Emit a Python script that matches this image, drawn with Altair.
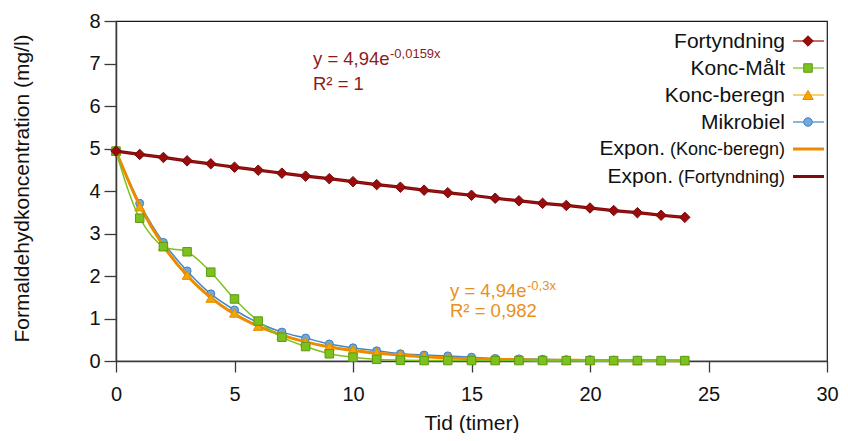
import altair as alt
import pandas as pd

hours = list(range(25))
fortyndning = [4.94, 4.86, 4.79, 4.71, 4.64, 4.56, 4.49, 4.42, 4.35, 4.29, 4.22, 4.15, 4.09,
               4.02, 3.96, 3.90, 3.83, 3.77, 3.71, 3.66, 3.60, 3.54, 3.49, 3.43, 3.38]
konc_maalt = [4.94, 3.36, 2.69, 2.57, 2.09, 1.46, 0.94, 0.56, 0.34, 0.17, 0.09, 0.04, 0.02,
              0.01, 0.01, 0.01, 0.01, 0.01, 0.01, 0.01, 0.01, 0.01, 0.01, 0.01, 0.01]
konc_beregn = [4.94, 3.63, 2.70, 2.02, 1.48, 1.13, 0.82, 0.60, 0.45, 0.34, 0.26, 0.20, 0.15,
               0.11, 0.08, 0.06, 0.05, 0.04, 0.03, 0.02, 0.02, 0.01, 0.01, 0.01, 0.01]
mikrobiel = [4.94, 3.71, 2.79, 2.12, 1.58, 1.20, 0.90, 0.68, 0.54, 0.40, 0.31, 0.24, 0.17,
             0.14, 0.12, 0.09, 0.06, 0.05, 0.04, 0.03, 0.03, 0.02, 0.02, 0.01, 0.01]
expon_konc = [4.94, 3.66, 2.71, 2.01, 1.49, 1.10, 0.82, 0.61, 0.45, 0.33, 0.25, 0.18, 0.14,
              0.10, 0.07, 0.05, 0.04, 0.03, 0.02, 0.02, 0.01, 0.01, 0.01, 0.01, 0.00]
expon_fort = [4.94, 4.86, 4.79, 4.71, 4.64, 4.56, 4.49, 4.42, 4.35, 4.29, 4.22, 4.15, 4.09,
              4.02, 3.96, 3.90, 3.83, 3.77, 3.71, 3.66, 3.60, 3.54, 3.49, 3.43, 3.38]

x_ticks = [0, 5, 10, 15, 20, 25, 30]
y_ticks = [0, 1, 2, 3, 4, 5, 6, 7, 8]

legend_names = ["Fortyndning", "Konc-Målt", "Konc-beregn", "Mikrobiel",
                "Expon. (Konc-beregn)", "Expon. (Fortyndning)"]

FONT = "Liberation Sans"

x_enc = alt.X("Tid:Q", scale=alt.Scale(domain=[0, 30], nice=False, zero=False),
              axis=alt.Axis(values=x_ticks, title="Tid (timer)", grid=False,
                            tickSize=11, labelPadding=12, labelFontSize=20, labelFlush=False,
                            labelOverlap=False,
                            titleFontSize=21, titleFontWeight="normal",
                            titleY=68, titleBaseline="alphabetic",
                            labelFont=FONT, titleFont=FONT, labelColor="#111",
                            titleColor="#111", domainColor="#3a3a3a", tickColor="#3a3a3a",
                            domainWidth=1.5, tickWidth=1.3))
y_enc_axis = alt.Axis(values=y_ticks, title="Formaldehydkoncentration (mg/l)", grid=False,
                      tickSize=12, labelPadding=4, labelFontSize=20, titleFontSize=21,
                      labelFlush=False, labelOverlap=False,
                      titleFontWeight="normal", titleX=-88, titleY=167,
                      titleBaseline="alphabetic", labelFont=FONT, titleFont=FONT,
                      labelColor="#111", titleColor="#111", domainColor="#3a3a3a",
                      tickColor="#3a3a3a", domainWidth=1.5, tickWidth=1.3)
y_scale = alt.Scale(domain=[0, 8], nice=False)


def frame(values):
    return pd.DataFrame({"Tid": hours, "v": values})


def y_enc():
    return alt.Y("v:Q", scale=y_scale, axis=y_enc_axis)


def series_line(values, color, width, interp):
    return alt.Chart(frame(values)).mark_line(
        color=color, strokeWidth=width, interpolate=interp).encode(x=x_enc, y=y_enc())


def series_points(values, shape, fill, stroke, size):
    return alt.Chart(frame(values)).mark_point(
        shape=shape, filled=True, fill=fill, stroke=stroke, strokeWidth=1,
        size=size, opacity=1).encode(x=x_enc, y=y_enc())


styles = {
    "Fortyndning": dict(line="#A31212", shape="diamond", fill="#9A0C0C", stroke="#7A0A0A", size=110),
    "Konc-Målt": dict(line="#7DC11F", shape="square", fill="#7DC11F", stroke="#5C9A14", size=72),
    "Konc-beregn": dict(line="#F7B01A", shape="triangle-up", fill="#F5A400", stroke="#E08E00", size=95),
    "Mikrobiel": dict(line="#3F86C6", shape="circle", fill="#72A9D9", stroke="#3F7FBF", size=64),
}

layers = [
    series_line(mikrobiel, styles["Mikrobiel"]["line"], 1.5, "catmull-rom"),
    series_points(mikrobiel, "circle", styles["Mikrobiel"]["fill"], styles["Mikrobiel"]["stroke"], 64),
    series_line(konc_beregn, styles["Konc-beregn"]["line"], 1.5, "catmull-rom"),
    series_line(expon_konc, "#EE8A00", 3, "monotone"),
    series_points(konc_beregn, "triangle-up", styles["Konc-beregn"]["fill"], styles["Konc-beregn"]["stroke"], 95),
    series_line(konc_maalt, styles["Konc-Målt"]["line"], 1.5, "catmull-rom"),
    series_points(konc_maalt, "square", styles["Konc-Målt"]["fill"], styles["Konc-Målt"]["stroke"], 72),
    series_line(expon_fort, "#7E0A0A", 3.2, "monotone"),
    series_line(fortyndning, styles["Fortyndning"]["line"], 1.2, "catmull-rom"),
    series_points(fortyndning, "diamond", styles["Fortyndning"]["fill"], styles["Fortyndning"]["stroke"], 110),
]


def text_at(txt, x, y, size, color, align="left", baseline="alphabetic"):
    return alt.Chart(pd.DataFrame({"t": [txt]})).mark_text(
        align=align, baseline=baseline, fontSize=size, font=FONT, color=color
    ).encode(text="t:N", x=alt.value(x), y=alt.value(y))


# equation annotations
red_txt = "#8E1B1B"
org_txt = "#E8901C"
layers += [
    text_at("y = 4,94e", 197, 44, 18.5, red_txt),
    text_at("-0,0159x", 274, 37, 13, red_txt),
    text_at("R² = 1", 197, 69, 18.5, red_txt),
    text_at("y = 4,94e", 334, 276, 18.5, org_txt),
    text_at("-0,3x", 411, 269, 13, org_txt),
    text_at("R² = 0,982", 334, 296, 18.5, org_txt),
]

# legend (labels to the left of symbols)
row_y = [20, 47, 74, 101, 128, 155.5]
label_right = 669
sym_x1, sym_x2, sym_mid = 677, 708, 692
legend_styles = [
    ("Fortyndning", styles["Fortyndning"]["line"], 1.2, "diamond", styles["Fortyndning"]["fill"], styles["Fortyndning"]["stroke"], 110),
    ("Konc-Målt", styles["Konc-Målt"]["line"], 1.2, "square", styles["Konc-Målt"]["fill"], styles["Konc-Målt"]["stroke"], 72),
    ("Konc-beregn", styles["Konc-beregn"]["line"], 1.2, "triangle-up", styles["Konc-beregn"]["fill"], styles["Konc-beregn"]["stroke"], 110),
    ("Mikrobiel", styles["Mikrobiel"]["line"], 1.2, "circle", styles["Mikrobiel"]["fill"], styles["Mikrobiel"]["stroke"], 72),
    ("Expon. (Konc-beregn)", "#EE8A00", 3, None, None, None, None),
    ("Expon. (Fortyndning)", "#7E0A0A", 3, None, None, None, None),
]
one = pd.DataFrame({"a": [0]})
for i, (name, lcol, lw, shape, fill, stroke, size) in enumerate(legend_styles):
    yy = row_y[i]
    layers.append(alt.Chart(one).mark_rule(color=lcol, strokeWidth=lw).encode(
        x=alt.value(sym_x1), x2=alt.value(sym_x2), y=alt.value(yy)))
    if shape:
        layers.append(alt.Chart(one).mark_point(
            shape=shape, filled=True, fill=fill, stroke=stroke, strokeWidth=1,
            size=size, opacity=1).encode(x=alt.value(sym_mid), y=alt.value(yy)))
    if name.startswith("Expon."):
        main, sub = name.split(" ", 1)
        layers.append(text_at(sub, label_right, yy + 6, 18, "#111", align="right"))
        offset = 120 if "Konc" in sub else 112
        layers.append(text_at(main, label_right - offset, yy + 6, 21, "#111", align="right"))
    else:
        layers.append(text_at(name, label_right, yy + 6.5, 21, "#111", align="right"))

chart = alt.layer(*layers).properties(
    width=711, height=340,
    autosize=alt.AutoSizeParams(type="none"),
    padding={"left": 108, "top": 13, "right": 13, "bottom": 72},
    background="white",
).configure_view(stroke="#1a1a1a", strokeWidth=1.2)

chart.save("out.html", embed_options={"renderer": "svg", "actions": False})
